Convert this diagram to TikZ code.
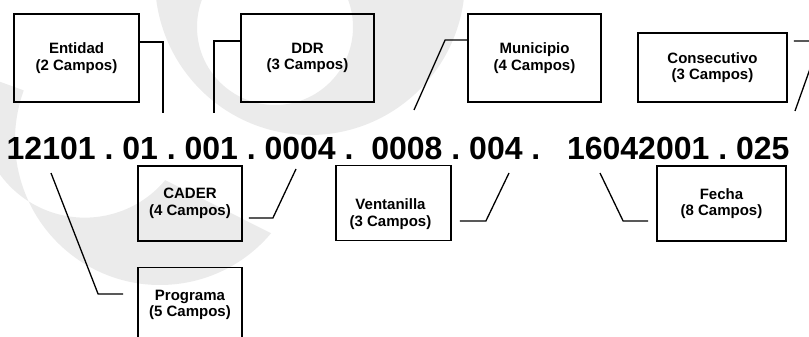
\documentclass[tikz,border=0pt]{standalone}
\usepackage{fontspec}
\setmainfont{Liberation Sans}
\frenchspacing

\begin{document}
\begin{tikzpicture}[x=1pt,y=-1pt,thin,
font=\bfseries\fontsize{15}{16.5}\selectfont]
\tikzstyle{campo}=[draw,line width=1.8pt,align=center,inner sep=0pt]
\tikzstyle{num}=[inner sep=0pt,anchor=base west,font=\bfseries\fontsize{32}{32}\selectfont]
\tikzstyle{linea}=[line width=1.3pt]
\tikzstyle{marca}=[fill=black!8,even odd rule]

\useasboundingbox (0,0) rectangle (809,337);

% marca de agua
\fill[marca] (310,-20) circle (155) (275,27) circle (78);
\fill[marca] (160,140) ++(40:145) arc (40:200:145) -- ++(20:-40) arc (200:40:105) -- cycle;

% cajas de arriba
\node[campo,minimum width=125pt,minimum height=88pt] (ent) at (76.5,58) {Entidad\\(2 Campos)};
\node[campo,minimum width=133pt,minimum height=88pt] (ddr) at (307.5,58) {DDR\\(3 Campos)};
\node[campo,minimum width=133pt,minimum height=88pt] (mun) at (534.5,58) {Municipio\\(4 Campos)};
\node[campo,minimum width=149pt,minimum height=69pt] (con) at (712.5,67.5) {Consecutivo\\(3 Campos)};

% cajas de abajo
\node[campo,minimum width=104pt,minimum height=75pt] (cad) at (190,203.5) {CADER\\(4 Campos)};
\node[campo,minimum width=115pt,minimum height=75pt] (ven) at (393.5,203) {};
\node[align=center,inner sep=0pt] (ventxt) at (390.5,214) {Ventanilla\\(3 Campos)};
\node[campo,minimum width=129pt,minimum height=75pt] (fec) at (721.5,203.5) {Fecha\\(8 Campos)};
\node[campo,minimum width=104pt,minimum height=75pt] (pro) at (190,305) {Programa\\(5 Campos)};

% la clave
\node[num] (clave) at (6.5,159) {12101 . 01 . 001 . 0004 .\ \ 0008 . 004 .\ \ \ 16042001 . 025};

% puntas de las lineas
\coordinate (pEnt) at (163,113);
\coordinate (pDdr) at (214,113);
\coordinate (pMun) at (414,110);
\coordinate (pCon) at (795,111);
\coordinate (pCad) at (296,169);
\coordinate (pVen) at (509,173);
\coordinate (pFec) at (600,173);
\coordinate (pPro) at (51,173);

\draw[linea] ([yshift=16pt]ent.east) -| (pEnt);
\draw[linea] ([yshift=17pt]ddr.west) -| (pDdr);
\draw[linea] ([yshift=18pt]mun.west) -- ++(-22,0) -- (pMun);
\draw[linea] ([xshift=6pt,yshift=26.5pt]con.east) -- ++(26,0) -- (pCon);
\draw[linea] ([xshift=6pt,yshift=-14.5pt]cad.east) -- ++(24,0) -- (pCad);
\draw[linea] ([xshift=8pt,yshift=-18pt]ven.east) -- ++(26,0) -- (pVen);
\draw[linea] ([xshift=-8pt,yshift=-17.5pt]fec.west) -- ++(-25,0) -- (pFec);
\draw[linea] ([xshift=-14pt,yshift=11pt]pro.west) -- ++(-25,0) -- (pPro);
\end{tikzpicture}
\end{document}
